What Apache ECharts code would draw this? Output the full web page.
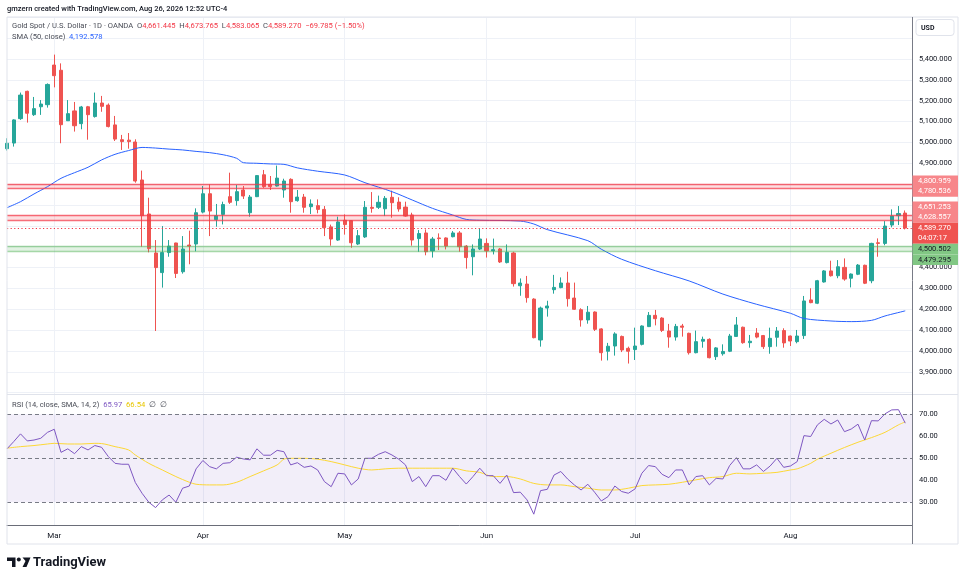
<!DOCTYPE html>
<html>
<head>
<meta charset="utf-8">
<script src="https://cdn.jsdelivr.net/npm/echarts@6/dist/echarts.min.js"></script>
<style>
html,body{margin:0;padding:0;background:#fff}
#chart{width:964px;height:582px}
</style>
</head>
<body>
<div id="chart"></div>
<script>
// daily bars, Feb 19 -> Aug 26 2026 (weekdays, Good Friday closed)
const holidays = ['2026-04-03'];
const monthNames = ['Jan','Feb','Mar','Apr','May','Jun','Jul','Aug','Sep','Oct','Nov','Dec'];

// [open, high, low, close]
const bars = [
	[4970,5020,4961,4996],[4997,5111,4980,5108],[5114,5239,5108,5227],[5245,5248,5095,5140],
	[5133,5218,5127,5162],[5171,5203,5132,5184],[5181,5283,5167,5278],[5371,5421,5264,5320],
	[5346,5379,4996,5085],[5104,5203,5103,5138],[5151,5194,5052,5080],[5090,5175,5063,5170],
	[5171,5175,5013,5133],[5124,5239,5119,5189],[5189,5223,5147,5173],[5179,5187,5072,5076],
	[5084,5127,5007,5016],[5013,5036,4964,5004],[5011,5045,4970,5004],[5002,5015,4807,4815],
	[4820,4865,4500,4649],[4657,4735,4473,4491],[4470,4532,4096,4400],[4376,4599,4304,4472],
	[4472,4532,4452,4503],[4518,4519,4350,4372],[4380,4551,4371,4489],[4508,4577,4416,4503],
	[4513,4684,4478,4663],[4666,4791,4660,4754],[4754,4799,4551,4671],[4630,4705,4596,4649],
	[4655,4716,4607,4702],[4740,4855,4705,4713],[4721,4796,4697,4764],[4772,4791,4729,4743],
	[4663,4748,4644,4738],[4740,4842,4738,4841],[4845,4868,4782,4788],[4799,4839,4772,4788],
	[4791,4889,4788,4829],[4772,4826,4735,4815],[4823,4828,4663,4716],[4721,4772,4716,4738],
	[4738,4753,4663,4689],[4692,4727,4657,4705],[4697,4727,4660,4679],[4679,4695,4551,4591],
	[4595,4606,4505,4537],[4532,4644,4528,4619],[4627,4655,4558,4606],[4625,4628,4495,4519],
	[4513,4580,4508,4553],[4547,4719,4542,4689],[4689,4762,4663,4684],[4689,4745,4681,4713],
	[4682,4743,4647,4732],[4737,4769,4639,4711],[4714,4737,4668,4681],[4690,4716,4644,4647],
	[4652,4663,4505,4532],[4539,4580,4476,4563],[4566,4583,4459,4476],[4480,4547,4448,4537],
	[4542,4564,4484,4539],[4542,4545,4487,4503],[4548,4575,4545,4566],[4566,4575,4476,4500],
	[4503,4508,4395,4448],[4452,4511,4363,4489],[4489,4588,4484,4537],[4516,4540,4448,4480],
	[4480,4539,4463,4486],[4489,4494,4422,4427],[4424,4511,4420,4473],[4470,4476,4309,4323],
	[4313,4348,4265,4326],[4321,4360,4232,4256],[4249,4253,4061,4064],[4053,4213,4021,4206],
	[4206,4241,4165,4216],[4294,4365,4275,4305],[4304,4353,4301,4326],[4326,4380,4213,4251],
	[4254,4328,4197,4200],[4198,4205,4117,4149],[4149,4216,4131,4186],[4187,4190,4096,4104],
	[4106,4109,3954,3992],[3999,4039,3955,4023],[4024,4090,3978,4082],[4070,4074,3995,4005],
	[4013,4021,3940,3999],[4007,4112,3957,4024],[4032,4123,4027,4120],[4117,4187,4115,4171],
	[4171,4197,4123,4155],[4158,4162,4091,4099],[4096,4130,4016,4067],[4067,4130,4050,4118],
	[4120,4130,4069,4114],[4085,4088,3983,3992],[3992,4098,3989,4045],[4047,4069,4016,4056],
	[4056,4061,3965,3968],[3973,4019,3957,4015],[3987,4032,3978,3998],[3999,4082,3995,4072],
	[4070,4163,4069,4125],[4114,4117,4035,4040],[4040,4077,4016,4047],[4086,4110,4061,4067],
	[4074,4077,4010,4021],[4021,4112,3987,4061],[4066,4115,4021,4096],[4098,4109,4016,4039],
	[4072,4074,4024,4048],[4045,4101,4037,4072],[4074,4264,4058,4240],[4245,4301,4229,4232],
	[4229,4341,4225,4337],[4331,4388,4328,4384],[4384,4433,4357,4361],[4361,4436,4349,4404],
	[4401,4444,4337,4345],[4349,4372,4305,4369],[4368,4417,4364,4412],[4411,4414,4321,4325],
	[4337,4519,4325,4516],[4519,4540,4452,4516],[4516,4623,4507,4599],[4604,4679,4593,4647],
	[4649,4695,4604,4659.055],[4661.445,4673.765,4583.065,4589.270]
];

// SMA(50) read at [bar index, value]
const smaPoints = [
	[0,4687],[2,4716],[4,4753],[6,4788],[8,4828],[10,4855],[12,4881],[14,4916],[16,4943],
	[18,4961],[20,4976],[22,4973],[24,4968],[26,4964],[28,4957],[30,4951],[32,4941],[34,4924],
	[35,4903],[37,4900],[39,4897],[41,4895],[43,4878],[46,4862],[50,4844],[53,4807],[57,4764],
	[60,4724],[63,4684],[66,4652],[68,4631],[70,4627],[76,4623],[78,4609],[80,4582],[86,4529],
	[88,4488],[91,4440],[96,4385],[101,4336],[106,4273],[111,4224],[116,4181],[118,4156],
	[122,4144],[125,4141],[128,4147],[130,4168],[133,4192.578]
];

// RSI(14) per bar
const rsi = [
	54.3,57.6,61.1,57.9,58.3,59.1,61.8,63.2,52.7,54.3,52.1,55.3,53.8,55.8,55.0,50.8,47.7,47.3,47.3,39.0,
	34.1,30.0,27.6,31.1,33.3,30.0,36.4,37.4,45.2,49.0,46.2,45.2,47.7,48.0,50.5,49.7,49.3,54.3,51.4,51.4,
	53.6,53.0,47.0,48.0,45.9,46.5,44.7,39.4,37.1,43.2,42.9,37.9,40.6,50.0,50.0,51.8,53.0,51.5,49.6,47.0,
	39.4,41.7,37.1,42.1,42.1,40.0,45.5,41.7,38.3,41.7,45.5,42.1,42.1,38.6,42.4,34.4,34.6,31.1,24.6,35.3,
	35.9,42.4,44.0,40.6,37.9,35.6,38.2,34.6,30.6,32.6,37.4,34.9,34.1,36.1,43.2,46.7,46.2,42.7,41.2,44.7,
	44.7,37.9,41.7,42.1,37.9,40.9,40.6,46.7,50.3,45.2,45.2,47.0,44.0,46.5,50.0,45.9,46.5,48.5,60.3,59.9,
	65.2,67.7,65.6,67.4,62.1,63.3,65.5,58.3,67.1,67.0,70.2,72.0,72.1,65.97
];

// RSI-based SMA(14) read at [bar index, value]
const rsiMaPoints = [
	[0,54.6],[2,55.3],[4,55.8],[6,56.5],[7,56.8],[9,56.5],[11,56.5],[13,56.8],[14,56.7],[16,55.3],
	[18,53.8],[19,51.5],[21,47.7],[23,44.7],[25,41.7],[27,39.1],[28,38.2],[30,37.9],[32,37.9],[34,39.1],
	[36,41.7],[38,44.3],[40,47.0],[41,49.6],[42,50.0],[44,50.0],[46,49.6],[48,48.5],[50,47.0],[52,45.5],
	[54,44.7],[56,45.2],[58,45.5],[62,45.5],[66,45.5],[68,44.3],[70,43.6],[72,41.7],[74,41.7],[76,40.6],
	[78,38.6],[80,37.9],[82,37.9],[84,37.1],[86,36.4],[88,35.6],[90,35.6],[92,36.4],[94,37.6],[96,37.9],
	[98,38.2],[100,39.1],[102,40.2],[104,41.2],[106,41.7],[108,43.2],[110,42.9],[112,43.2],[114,43.6],
	[116,44.7],[117,45.2],[119,47.7],[120,49.6],[122,52.3],[124,54.9],[126,57.3],[128,59.4],[130,61.8],
	[132,65.2],[133,66.54]
];

// horizontal zones drawn on the chart
const zones = [
	{lo:4780.536, hi:4800.959, kind:'red'},
	{lo:4628.557, hi:4651.253, kind:'red'},
	{lo:4479.295, hi:4500.502, kind:'green'}
];
const countdown = '04:07:17';
const rsiLevels = [70, 50, 30];
const rsiBand = [30, 70];
const hiddenPriceTicks = [3800, 4500, 4600, 4700, 4800, 5500, 5600];

// ---------- build categories ----------
const dates = [];
for (let d = new Date(Date.UTC(2026,1,19)); d.getTime() <= Date.UTC(2026,7,26); d.setUTCDate(d.getUTCDate()+1)) {
	const wd = d.getUTCDay();
	if (wd === 0 || wd === 6) continue;
	const s = d.toISOString().slice(0,10);
	if (holidays.indexOf(s) > -1) continue;
	dates.push(s);
}
dates.push(''); // one empty slot right of the last bar
const monthStart = {};
for (let i = 1; i < dates.length; i++) {
	if (dates[i] && dates[i].slice(5,7) !== dates[i-1].slice(5,7)) monthStart[i] = monthNames[+dates[i].slice(5,7)-1];
}
const isMonth = (i) => monthStart[i] !== undefined;

const fmt = (v, n) => v.toLocaleString('en-US', {minimumFractionDigits:n, maximumFractionDigits:n});
const toSparse = (pts) => { const a = dates.map(() => null); pts.forEach(p => { a[p[0]] = p[1]; }); return a; };

const candleData = bars.map(b => [b[0], b[3], b[2], b[1]]);
const last = bars[bars.length-1];
const prev = bars[bars.length-2];
const chg = last[3] - prev[3];
const smaLast = smaPoints[smaPoints.length-1][1];
const rsiMaLast = rsiMaPoints[rsiMaPoints.length-1][1];

const FONT = 'Roboto, "Liberation Sans", sans-serif';
const UP = '#26a69a', DOWN = '#ef5350';
const zoneStyle = {
	red: {fill:'rgba(242,54,69,0.16)', line:'rgba(242,54,69,0.72)', box:'#f7868a', text:'#ffffff'},
	green: {fill:'rgba(76,175,80,0.16)', line:'rgba(76,175,80,0.5)', box:'#81c784', text:'#131722'}
};

const chart = echarts.init(document.getElementById('chart'));

const xBase = {
	type:'category', data:dates, boundaryGap:false,
	axisTick:{show:false},
	splitLine:{show:true, interval:(i)=>isMonth(i), lineStyle:{color:'#eef1f7', width:1}}
};

const option = {
	animation:false,
	backgroundColor:'#ffffff',
	grid:[
		{left:7, right:52, top:17, height:377},
		{left:7, right:52, top:395, height:130}
	],
	xAxis:[
		Object.assign({}, xBase, {gridIndex:0, axisLine:{show:false}, axisLabel:{show:false}}),
		Object.assign({}, xBase, {gridIndex:1,
			axisLine:{show:true, lineStyle:{color:'#6a6d78', width:1}},
			axisLabel:{show:true, interval:(i)=>isMonth(i), formatter:(v,i)=>monthStart[i]||'', fontSize:8, color:'#131722', fontFamily:FONT, margin:7}
		})
	],
	yAxis:[
		{
			type:'value', gridIndex:0, position:'right', scale:true,
			min:3794, max:5601.3, splitNumber:18, minInterval:100, maxInterval:100,
			axisLine:{show:false}, axisTick:{show:false},
			splitLine:{show:true, lineStyle:{color:'#eef1f7', width:1}},
			axisLabel:{fontSize:7.5, color:'#131722', fontFamily:FONT, margin:7,
				formatter:(v)=>{
					if (Math.abs(v % 100) > 1e-6 || hiddenPriceTicks.indexOf(v) > -1) return '';
					return fmt(v, 3);
				}}
		},
		{
			type:'value', gridIndex:1, position:'right',
			min:19.68, max:78.77, splitNumber:6, minInterval:10, maxInterval:10,
			axisLine:{show:false}, axisTick:{show:false}, splitLine:{show:false},
			axisLabel:{fontSize:7.5, color:'#131722', fontFamily:FONT, margin:7,
				formatter:(v)=> (v >= 30 && v <= 70 && Math.abs(v % 10) < 1e-6) ? fmt(v, 2) : ''}
		}
	],
	series:[
		{
			name:'zones', type:'line', xAxisIndex:0, yAxisIndex:0, data:[], silent:true,
			markArea:{silent:true, data: zones.map(z => [{yAxis:z.lo, itemStyle:{color:zoneStyle[z.kind].fill}}, {yAxis:z.hi}])},
			markLine:{silent:true, symbol:'none', label:{show:false},
				data: zones.reduce((a, z) => a.concat([
					{yAxis:z.lo, lineStyle:{color:zoneStyle[z.kind].line, width:1.4, type:'solid'}},
					{yAxis:z.hi, lineStyle:{color:zoneStyle[z.kind].line, width:1.4, type:'solid'}}
				]), []).concat([{yAxis:last[3], lineStyle:{color:'#f23645', width:1, type:[1.2,2.4]}}])
			}
		},
		{
			name:'Gold', type:'candlestick', xAxisIndex:0, yAxisIndex:0, data:candleData,
			barWidth:3.6,
			itemStyle:{color:UP, color0:DOWN, borderColor:UP, borderColor0:DOWN, borderWidth:1}
		},
		{
			name:'SMA', type:'line', xAxisIndex:0, yAxisIndex:0, data:toSparse(smaPoints),
			connectNulls:true, smooth:0.3, symbol:'none',
			lineStyle:{color:'#2962ff', width:1}
		},
		{
			name:'RSI', type:'line', xAxisIndex:1, yAxisIndex:1, data:rsi, symbol:'none',
			lineStyle:{color:'#7e57c2', width:1},
			markArea:{silent:true, data:[[{yAxis:rsiBand[0], itemStyle:{color:'rgba(126,87,194,0.1)'}}, {yAxis:rsiBand[1]}]]},
			markLine:{silent:true, symbol:'none', label:{show:false},
				lineStyle:{color:'#787b86', width:1, type:[4,3]},
				data: rsiLevels.map(v => ({yAxis:v}))}
		},
		{
			name:'RSI MA', type:'line', xAxisIndex:1, yAxisIndex:1, data:toSparse(rsiMaPoints),
			connectNulls:true, smooth:0.3, symbol:'none', z:1,
			lineStyle:{color:'#fdd835', width:1}
		}
	]
};
chart.setOption(option);

// ---------- price scale tags, placed through the price axis ----------
const yOf = (v) => chart.convertToPixel({yAxisIndex:0}, v);
const tagH = 10.6;
const tags = [];
zones.forEach(z => {
	const st = zoneStyle[z.kind];
	tags.push({y:yOf(z.hi), h:tagH, lines:[fmt(z.hi,3)], box:st.box, text:st.text});
	tags.push({y:yOf(z.lo), h:tagH, lines:[fmt(z.lo,3)], box:st.box, text:st.text});
});
tags.push({y:yOf(last[3]) + tagH/2, h:tagH*2, lines:[fmt(last[3],3), countdown], box:'#ef5350', text:'#ffffff'});
tags.sort((a,b) => a.y - b.y);
// merge overlapping tags into stacked groups
let groups = tags.map(t => ({items:[t], c:t.y, h:t.h}));
let merged = true;
while (merged) {
	merged = false;
	for (let i = 0; i < groups.length-1; i++) {
		const a = groups[i], b = groups[i+1];
		if (a.c + a.h/2 > b.c - b.h/2) {
			const items = a.items.concat(b.items);
			const c = items.reduce((s,t)=>s+t.y,0)/items.length;
			groups.splice(i, 2, {items:items, c:c, h:a.h+b.h});
			merged = true;
			break;
		}
	}
}
const tagEls = [];
groups.forEach(g => {
	let top = g.c - g.h/2;
	g.items.forEach(t => {
		tagEls.push({type:'rect', shape:{x:912.5, y:top, width:45.5, height:t.h}, style:{fill:t.box}, z:100, silent:true});
		t.lines.forEach((ln, k) => {
			tagEls.push({type:'text', x:918, y:top + tagH/2 + k*tagH, z:101, silent:true,
				style:{text:ln, fill:t.text, font:'7.5px ' + FONT, verticalAlign:'middle'}});
		});
		top += t.h;
	});
});

const grey = '#4a4d57';
const small = '7.6px ' + FONT;
chart.setOption({
	graphic:[
		// panel frame and separators
		{type:'rect', shape:{x:7, y:17, width:951, height:527}, style:{fill:null, stroke:'#e0e3eb', lineWidth:1}, silent:true, z:50},
		{type:'line', shape:{x1:7, y1:394.5, x2:958, y2:394.5}, style:{stroke:'#e0e3eb', lineWidth:1}, silent:true, z:50},
		{type:'line', shape:{x1:912.5, y1:17, x2:912.5, y2:544}, style:{stroke:'#787b86', lineWidth:1}, silent:true, z:50},
		// titles
		{type:'text', x:7, y:9, silent:true, style:{text:'gmzern created with TradingView.com, Aug 26, 2026 12:52 UTC-4', fill:'#131722', font:'500 7.5px ' + FONT, verticalAlign:'middle'}},
		{type:'text', x:12, y:26, silent:true, style:{
			text:'{g|Gold Spot / U.S. Dollar · 1D · OANDA  O}{r|' + fmt(last[0],3) + '}{g|  H}{r|' + fmt(last[1],3) + '}{g|  L}{r|' + fmt(last[2],3) + '}{g|  C}{r|' + fmt(last[3],3) + '}{r|  ' + (chg<0?'−':'+') + fmt(Math.abs(chg),3) + ' (' + (chg<0?'−':'+') + fmt(Math.abs(chg/prev[3]*100),2) + '%)}',
			verticalAlign:'middle',
			rich:{g:{fill:grey, font:small}, r:{fill:'#f23645', font:small}}
		}},
		{type:'text', x:12, y:37, silent:true, style:{
			text:'{g|SMA (50, close)  }{b|' + fmt(smaLast,3) + '}', verticalAlign:'middle',
			rich:{g:{fill:grey, font:small}, b:{fill:'#2962ff', font:small}}
		}},
		{type:'text', x:12, y:405, silent:true, style:{
			text:'{g|RSI (14, close, SMA, 14, 2)  }{p|' + fmt(rsi[rsi.length-1],2) + '  }{y|' + fmt(rsiMaLast,2) + '  }{g|∅  ∅}', verticalAlign:'middle',
			rich:{g:{fill:grey, font:small}, p:{fill:'#7e57c2', font:small}, y:{fill:'#e8c700', font:small}}
		}},
		// currency button
		{type:'rect', shape:{x:916, y:19.5, width:38, height:16, r:3}, style:{fill:'#fff', stroke:'#e0e3eb', lineWidth:1}, silent:true, z:60},
		{type:'text', x:921, y:28, silent:true, z:61, style:{text:'USD', fill:'#131722', font:'bold 7px ' + FONT, verticalAlign:'middle'}},
		// TradingView logo
		{type:'polygon', shape:{points:[[7,557.5],[15.5,557.5],[15.5,567],[12,567],[12,561],[7,561]]}, style:{fill:'#131722'}, silent:true},
		{type:'circle', shape:{cx:18.8, cy:559.6, r:2}, style:{fill:'#131722'}, silent:true},
		{type:'polygon', shape:{points:[[22.5,557.5],[30.5,557.5],[26.5,567],[22.5,567],[25.5,561]]}, style:{fill:'#131722'}, silent:true},
		{type:'text', x:33, y:563, silent:true, style:{text:'TradingView', fill:'#131722', font:'bold 13px ' + FONT, verticalAlign:'middle'}}
	].concat(tagEls)
});
</script>
</body>
</html>
